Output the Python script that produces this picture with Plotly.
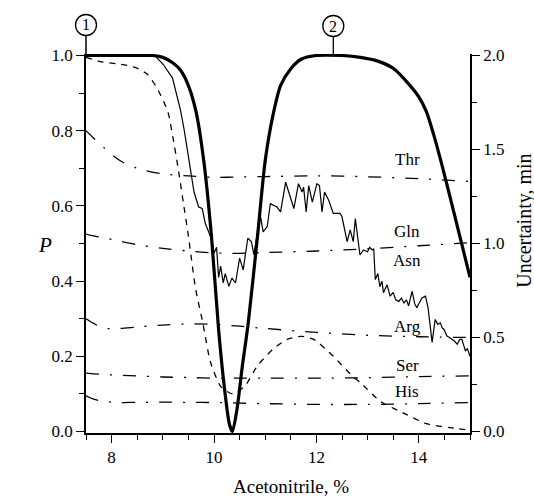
import plotly.graph_objects as go

# ---------------- data ----------------
# thick solid curve (left axis, P)
thick_x = [7.5, 8.5, 8.8, 9.0, 9.2, 9.35, 9.5, 9.65, 9.8, 9.95, 10.09, 10.2, 10.3, 10.36,
           10.45, 10.55, 10.67, 10.85, 11.0, 11.15, 11.3, 11.5, 11.7, 12.0, 12.5, 12.86,
           13.2, 13.5, 13.83, 14.0, 14.15, 14.3, 14.45, 14.7, 15.0]
thick_p = [1.0, 1.0, 1.0, 0.995, 0.98, 0.96, 0.92, 0.85, 0.72, 0.52, 0.27, 0.12, 0.02, 0.0,
           0.06, 0.17, 0.29, 0.52, 0.72, 0.84, 0.92, 0.965, 0.99, 1.0, 1.0, 0.995,
           0.985, 0.966, 0.92, 0.89, 0.85, 0.785, 0.71, 0.575, 0.41]

# thin noisy solid curve (left axis, P)
noisy_x = [7.5, 8.5, 8.86, 9.01, 9.19, 9.29, 9.35, 9.42, 9.48, 9.55, 9.61, 9.70, 9.77, 9.83,
           9.90, 9.96, 10.00, 10.05, 10.09, 10.13, 10.18, 10.22, 10.29, 10.35, 10.42, 10.50,
           10.57, 10.66, 10.73, 10.78, 10.83, 10.91, 10.96, 11.04, 11.10, 11.23, 11.30, 11.40,
           11.56, 11.65, 11.72, 11.75, 11.80, 11.85, 11.92, 12.01, 12.06, 12.11, 12.16, 12.24,
           12.33, 12.46, 12.50, 12.60, 12.66, 12.72, 12.76, 12.85, 12.92, 13.00, 13.04, 13.09,
           13.12, 13.15, 13.20, 13.24, 13.28, 13.31, 13.38, 13.44, 13.50, 13.55, 13.61, 13.66,
           13.71, 13.76, 13.80, 13.87, 13.92, 13.96, 14.06, 14.13, 14.18, 14.22, 14.26, 14.32,
           14.37, 14.42, 14.46, 14.49, 14.55, 14.60, 14.65, 14.70, 14.75, 14.80, 14.84, 14.88,
           14.91, 14.95, 15.0]
noisy_p = [1.0, 1.0, 0.998, 0.976, 0.94, 0.887, 0.852, 0.80, 0.747, 0.685, 0.637, 0.597, 0.593, 0.553,
           0.527, 0.509, 0.474, 0.49, 0.41, 0.44, 0.395, 0.42, 0.386, 0.408, 0.395, 0.461,
           0.43, 0.514, 0.505, 0.47, 0.514, 0.571, 0.531, 0.545, 0.606, 0.597, 0.584, 0.663,
           0.593, 0.659, 0.637, 0.65, 0.584, 0.654, 0.610, 0.659, 0.654, 0.584, 0.637, 0.615,
           0.58, 0.58, 0.571, 0.505, 0.536, 0.505, 0.566, 0.47, 0.483, 0.478, 0.49, 0.483,
           0.486, 0.404, 0.42, 0.385, 0.40, 0.369, 0.39, 0.36, 0.37, 0.35, 0.346, 0.355,
           0.342, 0.35, 0.334, 0.373, 0.34, 0.329, 0.355, 0.36, 0.33, 0.29, 0.237, 0.298,
           0.285, 0.289, 0.275, 0.272, 0.254, 0.25, 0.245, 0.24, 0.232, 0.245, 0.245, 0.23,
           0.215, 0.22, 0.20]

# short-dashed curve (left axis, P)
dashed_x = [7.5, 7.78, 8.1, 8.43, 8.7, 8.9, 9.1, 9.2, 9.3, 9.4, 9.5, 9.64, 9.78, 9.93, 10.13,
            10.36, 10.6, 10.85, 11.16, 11.43, 11.7, 11.95, 12.33, 12.72, 12.86, 13.25, 13.64,
            14.17, 14.75, 15.0]
dashed_p = [0.995, 0.984, 0.978, 0.97, 0.95, 0.91, 0.85, 0.78, 0.70, 0.61, 0.52, 0.38, 0.29, 0.185, 0.12,
            0.10, 0.12, 0.175, 0.22, 0.245, 0.253, 0.245, 0.20, 0.145, 0.13, 0.08, 0.053,
            0.02, 0.008, 0.003]

# dash-dot uncertainty curves (right axis, min)
unc_x = [7.5, 7.65, 7.85, 8.17, 8.5, 9.0, 9.5, 10.0, 10.5, 11.0, 12.0, 13.0, 14.0, 15.0]
thr_u = [1.60, 1.56, 1.51, 1.44, 1.40, 1.37, 1.36, 1.352, 1.354, 1.356, 1.36, 1.355, 1.345, 1.33]
gln_u = [1.05, 1.04, 1.03, 1.012, 0.994, 0.974, 0.96, 0.95, 0.948, 0.952, 0.96, 0.972, 0.988, 1.004]
arg_u = [0.60, 0.575, 0.55, 0.548, 0.556, 0.566, 0.572, 0.57, 0.56, 0.548, 0.527, 0.512, 0.504, 0.50]
ser_u = [0.31, 0.307, 0.303, 0.299, 0.296, 0.29, 0.287, 0.284, 0.284, 0.284, 0.284, 0.286, 0.292, 0.296]
his_u = [0.19, 0.172, 0.16, 0.154, 0.155, 0.156, 0.155, 0.154, 0.151, 0.148, 0.144, 0.144, 0.148, 0.154]

amino_labels = ["Thr", "Gln", "Asn", "Arg", "Ser", "His"]

FONT = "Liberation Serif, Times New Roman, serif"
DASHDOT = "13px,11px,2px,11px"

X0, X1 = 7.5, 15.0

fig = go.Figure()

for u in [thr_u, gln_u, arg_u, ser_u, his_u]:
    fig.add_trace(go.Scatter(x=unc_x, y=u, yaxis="y2", mode="lines",
                             line=dict(color="black", width=1.3, dash=DASHDOT, shape="spline", smoothing=0.8),
                             showlegend=False, hoverinfo="skip"))

fig.add_trace(go.Scatter(x=dashed_x, y=dashed_p, mode="lines",
                         line=dict(color="black", width=1.3, dash="6px,6px", shape="spline", smoothing=0.6),
                         showlegend=False))
fig.add_trace(go.Scatter(x=noisy_x, y=noisy_p, mode="lines",
                         line=dict(color="black", width=1.2),
                         showlegend=False))
fig.add_trace(go.Scatter(x=thick_x, y=thick_p, mode="lines",
                         line=dict(color="black", width=3.2, shape="spline", smoothing=0.7),
                         showlegend=False))

PAD = 0.004
fig.update_layout(
    width=534, height=499,
    margin=dict(l=86, r=64, t=54, b=66),
    paper_bgcolor="white", plot_bgcolor="white",
    font=dict(family=FONT, size=17, color="black"),
    xaxis=dict(range=[X0, X1], tick0=8, dtick=2, ticks="outside", ticklen=8, tickwidth=1.3,
               tickcolor="black", showline=True, linecolor="black", linewidth=1.5,
               showgrid=False, zeroline=False,
               minor=dict(tick0=7.5, dtick=0.5, ticks="outside", ticklen=5, tickwidth=1.3,
                          tickcolor="black", showgrid=False),
               tickfont=dict(family=FONT, size=17)),
    yaxis=dict(range=[-PAD, 1 + PAD], tick0=0, dtick=0.2, tickformat=".1f", ticks="outside",
               ticklen=8, tickwidth=1.3, tickcolor="black", showline=True, linecolor="black",
               linewidth=1.5, showgrid=False, zeroline=False,
               minor=dict(tick0=0, dtick=0.1, ticks="outside", ticklen=5, tickwidth=1.3,
                          tickcolor="black", showgrid=False),
               tickfont=dict(family=FONT, size=17)),
    yaxis2=dict(range=[-2 * PAD, 2 + 2 * PAD], overlaying="y", side="right", tick0=0, dtick=0.5,
                tickformat=".1f", ticks="outside", ticklen=8, tickwidth=1.3, tickcolor="black",
                showline=True, linecolor="black", linewidth=1.5, showgrid=False, zeroline=False,
                minor=dict(tick0=0, dtick=0.25, ticks="outside", ticklen=5, tickwidth=1.3,
                           tickcolor="black", showgrid=False),
                tickfont=dict(family=FONT, size=17)),
)

# axis titles
fig.add_annotation(text="Acetonitrile, %", xref="paper", yref="paper", x=0.534, y=-0.141,
                   showarrow=False, font=dict(family=FONT, size=19), xanchor="center", yanchor="middle")
fig.add_annotation(text="<i>P</i>", xref="paper", yref="paper", x=-0.107, y=0.496,
                   showarrow=False, font=dict(family=FONT, size=21), xanchor="center", yanchor="middle")
fig.add_annotation(text="Uncertainty, min", xref="paper", yref="paper", x=1.143, y=0.56,
                   showarrow=False, textangle=-90, font=dict(family=FONT, size=20),
                   xanchor="center", yanchor="middle")

# amino acid labels
label_y = [0.723, 0.531, 0.456, 0.28, 0.175, 0.106]
for name, yy in zip(amino_labels, label_y):
    fig.add_annotation(text=name, x=13.77, y=yy, xref="x", yref="y", showarrow=False,
                       font=dict(family=FONT, size=17), xanchor="center", yanchor="middle")

# circled markers 1 and 2 (paper coordinates so they are not clipped)
def circ(xdata, yc_pix, label):
    xc = (xdata - X0) / (X1 - X0)
    yc = (433 - yc_pix) / 379
    fig.add_shape(type="circle", xref="paper", yref="paper", xsizemode="pixel", ysizemode="pixel",
                  xanchor=xc, yanchor=yc, x0=-10.5, x1=10.5, y0=-10.5, y1=10.5,
                  line=dict(color="black", width=1.3))
    fig.add_annotation(text=label, x=xc, y=yc, xref="paper", yref="paper", showarrow=False,
                       font=dict(family=FONT, size=16), xanchor="center", yanchor="middle")
    return xc

c1 = circ(7.5, 25, "1")
c2 = circ(12.33, 26, "2")
fig.add_shape(type="line", xref="paper", yref="paper", x0=c1, x1=c1,
              y0=1.0, y1=(433 - 35.5) / 379, line=dict(color="black", width=1.5))
fig.add_shape(type="line", xref="paper", yref="paper", x0=c2, x1=c2,
              y0=(433 - 56) / 379, y1=(433 - 36.5) / 379, line=dict(color="black", width=1.3))

fig.write_html("out.html")
